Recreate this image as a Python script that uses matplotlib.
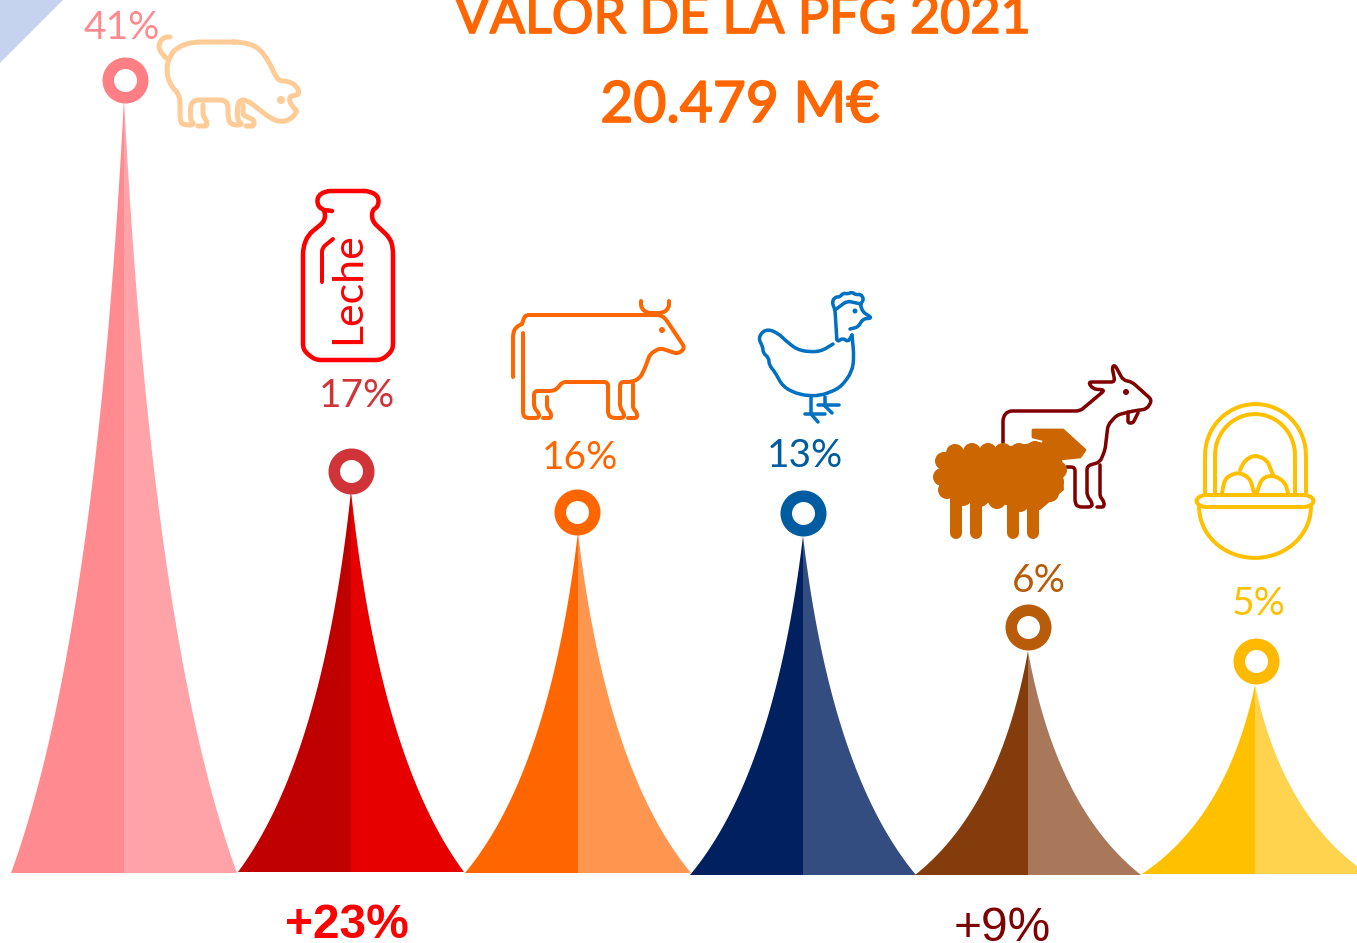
import numpy as np
import matplotlib
matplotlib.use("Agg")
import matplotlib.pyplot as plt
import matplotlib.patheffects as pe
from matplotlib.path import Path
from matplotlib.patches import PathPatch, Circle, Polygon

W, H = 1357, 943

categories = ["Porcino", "Leche", "Vacuno", "Aves", "Ovino y caprino", "Huevos"]
shares = [41, 17, 16, 13, 6, 5]
spike_heights = [774, 381, 341, 339, 224, 189]

# layout, in pixels
spike_centers = [124, 351, 578, 803, 1028, 1255]
spike_bases = [873, 872, 873, 875, 875, 874]
half_width = 113
ring_pos = [(125, 80), (351, 471), (577, 512), (803, 513), (1028, 627), (1256, 661)]
label_pos = [(122, 28), (357, 396), (580, 458), (805, 456), (1039, 581), (1259, 604)]

left_colors = ["#FF8A8F", "#C00000", "#FF6600", "#002060", "#843C0C", "#FFC000"]
right_colors = ["#FFA3A8", "#E60000", "#FF9650", "#334D80", "#A9785A", "#FFD34D"]
ring_colors = ["#FF7F85", "#D13438", "#FF6600", "#005CA0", "#B85C0A", "#FFB900"]
label_colors = ["#FF8A8F", "#D13438", "#FF6600", "#005CA0", "#B85C0A", "#FFC000"]


def rounded(pts, r=6, closed=False):
    # polyline with its corners rounded off
    pts = [np.array(p, float) for p in pts]
    if closed:
        pts = pts + [pts[0], pts[1]]
    verts = [pts[0]]
    codes = [Path.MOVETO]
    for a, b, c in zip(pts[:-2], pts[1:-1], pts[2:]):
        d1 = min(r, np.linalg.norm(a - b) / 2)
        d2 = min(r, np.linalg.norm(c - b) / 2)
        p1 = b + (a - b) / np.linalg.norm(a - b) * d1
        p2 = b + (c - b) / np.linalg.norm(c - b) * d2
        verts += [p1, b, p2]
        codes += [Path.LINETO, Path.CURVE3, Path.CURVE3]
    if closed:
        verts = verts[1:] + [verts[1]]
        codes = [Path.MOVETO] + codes[2:] + [Path.LINETO]
        return Path(verts, codes)
    verts.append(pts[-1])
    codes.append(Path.LINETO)
    return Path(verts, codes)


def stroke(ax, pts, color, lw, r=6, closed=False):
    ax.add_patch(PathPatch(rounded(pts, r, closed), fc="none", ec=color, lw=lw * 0.72,
                           capstyle="round", joinstyle="round"))


def dot(ax, x, y, rad, color):
    ax.add_patch(Circle((x, y), rad, fc=color, ec="none"))


def draw_pig(ax, c="#FFCB96"):
    lw = 5
    stroke(ax, [(170, 37), (164, 37), (159, 43), (159, 50), (166, 58)], c, lw, 5)
    stroke(ax, [(192, 42), (242, 42), (258, 47), (268, 60), (278, 81), (288, 81), (297, 86), (300, 95),
                (288, 96), (292, 107), (298, 111), (290, 120), (280, 122), (270, 118), (247, 100),
                (238, 100), (237, 120), (243, 125), (232, 125), (228, 120), (228, 100), (191, 100),
                (190, 120), (195, 125), (184, 125), (180, 122), (180, 95), (170, 85), (166, 70),
                (170, 55), (178, 47)], c, lw, 8, closed=True)
    stroke(ax, [(203, 105), (203, 115), (207, 122), (207, 126), (198, 126)], c, lw, 2)
    stroke(ax, [(243, 105), (243, 115), (254, 120), (254, 126), (246, 126)], c, lw, 2)
    dot(ax, 281, 100, 4, c)


def draw_bottle(ax, c="#FF0000"):
    stroke(ax, [(325, 191), (370, 191), (379, 197), (378, 207), (372, 210), (372, 221), (390, 238),
                (393, 248), (393, 350), (382, 360), (315, 360), (303, 350), (303, 248), (308, 235),
                (325, 221), (325, 210), (318, 207), (317, 197)], c, 4.5, 6, closed=True)
    stroke(ax, [(325, 210), (332, 211)], c, 4.5)
    stroke(ax, [(322, 282), (322, 248), (333, 239)], c, 4, 4)
    ax.text(348, 288, "Leche", color=c, rotation=90, ha="center", va="center",
            fontsize=31, family="Lato")


def draw_cow(ax, c="#FF6600"):
    lw = 4
    stroke(ax, [(513, 377), (513, 333), (516, 327), (522, 324)], c, lw, 5)
    stroke(ax, [(522, 324), (525, 315), (660, 315), (665, 318), (685, 348), (678, 354), (660, 348),
                (650, 354), (645, 368), (640, 378), (632, 382), (620, 382), (620, 408), (624, 413),
                (624, 418), (612, 418), (608, 415), (608, 382), (562, 382), (558, 388), (553, 391),
                (534, 391), (534, 408), (539, 413), (539, 418), (526, 418), (523, 415), (523, 333)],
           c, lw, 4)
    stroke(ax, [(547, 397), (547, 408), (551, 413), (551, 418), (543, 418)], c, lw, 2)
    stroke(ax, [(633, 384), (633, 408), (637, 413), (637, 418), (628, 418)], c, lw, 2)
    stroke(ax, [(641, 301), (641, 308), (647, 313), (663, 313), (669, 308), (669, 301)], c, lw, 4)
    dot(ax, 662, 330, 3, c)


def draw_hen(ax, c="#0070C0"):
    lw = 3.5
    stroke(ax, [(833, 344), (820, 352), (800, 351), (788, 343), (777, 332), (765, 329), (758, 338),
                (763, 347), (763, 353), (769, 358), (769, 365), (775, 372), (783, 387), (800, 395),
                (820, 396), (840, 388), (852, 372), (854, 357), (852, 335)], c, lw, 8)
    stroke(ax, [(852, 335), (848, 342), (843, 338), (837, 342), (835, 310), (832, 302), (835, 297), (840, 297),
                (843, 293), (848, 294), (852, 292), (856, 295), (861, 294), (864, 300), (860, 304), (863, 312),
                (872, 318), (863, 319), (858, 327), (850, 329)], c, lw, 3)
    stroke(ax, [(835, 310), (847, 301), (861, 304)], c, lw, 4)
    dot(ax, 855, 311, 2.5, c)
    for seg in [[(811, 397), (811, 413)], [(805, 414), (825, 414)], [(811, 414), (818, 422)],
                [(825, 397), (825, 406)], [(818, 405), (839, 405)], [(825, 406), (832, 413)]]:
        stroke(ax, seg, c, lw)


def draw_goat(ax, c="#800000"):
    lw = 3.5
    stroke(ax, [(1003, 443), (1003, 417), (1008, 411), (1080, 411), (1105, 390), (1093, 389), (1088, 382),
                (1115, 382), (1112, 367), (1115, 365), (1123, 380), (1132, 382), (1152, 400), (1147, 409),
                (1133, 411), (1117, 415), (1108, 425), (1105, 450), (1100, 462), (1087, 466), (1087, 496),
                (1092, 502), (1092, 507), (1078, 507), (1075, 503), (1075, 467), (1067, 467)], c, lw, 4)
    stroke(ax, [(1100, 465), (1100, 496), (1104, 502), (1104, 507), (1097, 507)], c, lw, 2)
    stroke(ax, [(1128, 412), (1128, 423), (1133, 423), (1138, 413)], c, lw, 2)
    dot(ax, 1126, 392, 3, c)


def draw_sheep(ax, c="#CC6600"):
    for x in [956, 976, 1013, 1033]:
        ax.plot([x, x], [495, 533], color=c, lw=12 * 0.72, solid_capstyle="round")
    ax.add_patch(Polygon([(1033, 430), (1063, 430), (1085, 450), (1080, 457), (1050, 460), (1040, 447),
                          (1045, 440), (1033, 437)], fc=c, ec=c, lw=2, joinstyle="round"))
    ax.add_patch(Polygon([(945, 455), (1040, 442), (1062, 457), (1064, 490), (1040, 510), (950, 497)],
                         fc=c, ec="none"))
    bumps = [(955, 453), (972, 452), (988, 452), (1003, 452), (1019, 452), (1035, 450), (944, 461),
             (942, 477), (947, 490), (963, 497), (980, 498), (997, 500), (1020, 503), (1037, 500),
             (1050, 493), (1055, 482), (1058, 470), (1045, 460)]
    for x, y in bumps:
        dot(ax, x, y, 9, c)


def arc(cx, cy, rx, ry, top=True):
    a = np.linspace(np.pi, 0, 25)
    sign = -1 if top else 1
    return list(zip(cx + rx * np.cos(a), cy + sign * ry * np.sin(a)))


def draw_basket(ax, c="#FFC000"):
    lw = 4
    stroke(ax, [(1205, 493)] + arc(1255.5, 455, 50.5, 51) + [(1306, 493)], c, lw, 8)
    stroke(ax, [(1215, 493)] + arc(1255, 455, 40, 41) + [(1295, 493)], c, lw, 8)
    stroke(ax, [(1201, 495), (1309, 495), (1315, 501), (1309, 507), (1201, 507), (1195, 501)], c, lw, 5, closed=True)
    stroke(ax, arc(1255, 507, 56, 51, top=False), c, lw, 10)
    stroke(ax, [(1222, 493), (1225, 478), (1238, 472), (1250, 478), (1254, 493)], c, lw, 6)
    stroke(ax, [(1257, 492), (1262, 478), (1273, 475), (1285, 482), (1288, 493)], c, lw, 6)
    stroke(ax, [(1240, 470), (1245, 460), (1255, 455), (1267, 460), (1273, 475)], c, lw, 5)


def main():
    fig = plt.figure(figsize=(W / 100, H / 100), dpi=100)
    ax = fig.add_axes([0, 0, 1, 1])
    ax.set_xlim(0, W)
    ax.set_ylim(H, 0)
    ax.axis("off")

    ax.fill([0, 63, 0], [0, 0, 63], color="#C5D3EE", lw=0)

    # witch-hat spikes: quadratic bezier from the base corner up to the tip
    t = np.linspace(0, 1, 80)
    bx = (1 - t) ** 2 + 2 * t * (1 - t) * 0.25
    by = 2 * t * (1 - t) * 0.3 + t ** 2
    for i, cat in enumerate(categories):
        cx, base, h = spike_centers[i], spike_bases[i], spike_heights[i]
        ys = base - by * h
        ax.fill(np.r_[cx - half_width * bx, cx], np.r_[ys, base], color=left_colors[i], lw=0)
        ax.fill(np.r_[cx + half_width * bx, cx], np.r_[ys, base], color=right_colors[i], lw=0)
        ax.plot([ring_pos[i][0]], [ring_pos[i][1]], "o", ms=34.5 * 0.72, mfc="white",
                mec=ring_colors[i], mew=11.5 * 0.72)
        ax.text(label_pos[i][0], label_pos[i][1], f"{shares[i]}%", color=label_colors[i], fontsize=28,
                family="Lato", ha="center", va="center")

    draw_pig(ax)
    draw_bottle(ax)
    draw_cow(ax)
    draw_hen(ax)
    draw_goat(ax)
    draw_sheep(ax)
    draw_basket(ax)

    thick = [pe.withStroke(linewidth=1.2, foreground="#FF6600")]
    ax.text(743, 33, "VALOR DE LA PFG 2021", color="#FF6600", fontsize=37.5, family="Lato",
            ha="center", va="baseline", path_effects=thick)
    ax.text(740, 122, "20.479 M€", color="#FF6600", fontsize=41, family="Lato",
            ha="center", va="baseline", path_effects=thick)

    ax.text(347, 938, "+23%", color="#FF0000", fontsize=34.5, family="Liberation Sans", weight="bold",
            ha="center", va="baseline")
    ax.text(1002, 941, "+9%", color="#7F0000", fontsize=34.5, family="Liberation Sans",
            ha="center", va="baseline")

    fig.savefig("out.png", dpi=100)
    plt.close("all")


if __name__ == "__main__":
    main()
